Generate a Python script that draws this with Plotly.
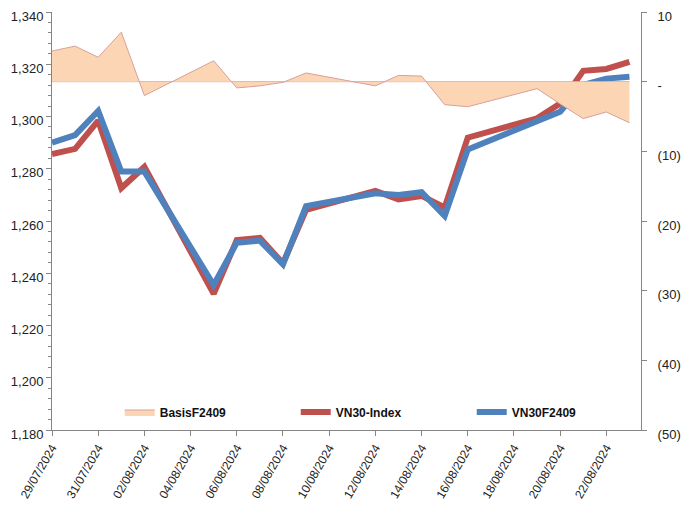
import plotly.graph_objects as go

dates = ["2024-07-29", "2024-07-30", "2024-07-31", "2024-08-01", "2024-08-02",
         "2024-08-05", "2024-08-06", "2024-08-07", "2024-08-08", "2024-08-09",
         "2024-08-12", "2024-08-13", "2024-08-14", "2024-08-15", "2024-08-16",
         "2024-08-19", "2024-08-20", "2024-08-21", "2024-08-22", "2024-08-23"]

vn30_index = [1285.6, 1287.6, 1298.4, 1272.6, 1280.7,
              1232.1, 1252.7, 1253.5, 1243.8, 1264.3,
              1271.5, 1268.3, 1269.6, 1265.2, 1291.9,
              1299.3, 1305.0, 1317.5, 1318.2, 1320.9]

vn30f2409 = [1290.0, 1292.9, 1302.1, 1278.9, 1278.9,
             1235.5, 1251.7, 1252.5, 1243.4, 1265.7,
             1270.6, 1270.0, 1271.0, 1261.9, 1287.4,
             1298.4, 1301.8, 1312.1, 1314.5, 1315.2]

basis = [4.4, 5.1, 3.5, 7.1, -2.0,
         3.0, -0.9, -0.6, -0.1, 1.25,
         -0.6, 0.9, 0.8, -3.3, -3.6,
         -1.0, -3.2, -5.3, -4.35, -5.9]

left_ticks = [1180, 1200, 1220, 1240, 1260, 1280, 1300, 1320, 1340]
right_tickvals = [10, 0, -10, -20, -30, -40, -50]
right_ticktext = ["10", "-", "(10)", "(20)", "(30)", "(40)", "(50)"]

FONT = "Liberation Sans, Arial, sans-serif"
AXIS_COLOR = "#868686"
TEXT_COLOR = "#222222"

fig = go.Figure()

fig.add_trace(go.Scatter(
    x=dates, y=[0 for _ in basis], yaxis="y2", mode="lines",
    line=dict(color="#D9A09A", width=1), showlegend=False, hoverinfo="skip"))

fig.add_trace(go.Scatter(
    x=dates, y=basis, yaxis="y2", mode="lines", name="BasisF2409",
    fill="tozeroy", fillcolor="rgba(252,213,180,1)",
    line=dict(color="#D9A09A", width=1)))

fig.add_trace(go.Scatter(
    x=dates, y=vn30_index, mode="lines", name="VN30-Index",
    line=dict(color="#C0504D", width=6)))

fig.add_trace(go.Scatter(
    x=dates, y=vn30f2409, mode="lines", name="VN30F2409",
    line=dict(color="#4F81BD", width=6)))

fig.update_layout(
    width=683, height=497,
    margin=dict(l=44, r=50, t=4, b=75),
    paper_bgcolor="white", plot_bgcolor="white",
    font=dict(family=FONT, size=12, color=TEXT_COLOR),
    xaxis=dict(
        type="date", range=["2024-07-29", "2024-08-23 12:00"],
        tick0="2024-07-29", dtick=2 * 86400000, tickformat="%d/%m/%Y",
        tickangle=-60, showgrid=False, zeroline=False, automargin=False,
        showline=True, linecolor=AXIS_COLOR, linewidth=1,
        ticks="outside", ticklen=5, tickcolor=AXIS_COLOR,
        tickfont=dict(size=12, color=TEXT_COLOR)),
    yaxis=dict(
        range=[1180, 1340], tickvals=left_ticks, tickformat=",",
        showgrid=False, zeroline=False, automargin=False,
        showline=True, linecolor=AXIS_COLOR, linewidth=1,
        ticks="outside", ticklen=5, tickcolor=AXIS_COLOR,
        ticklabelshift=4,
        minor=dict(dtick=4, ticks="outside", ticklen=3, tickcolor=AXIS_COLOR),
        tickfont=dict(size=13, color=TEXT_COLOR)),
    yaxis2=dict(
        overlaying="y", side="right", range=[-50, 10],
        tickvals=right_tickvals, ticktext=right_ticktext,
        showgrid=False, zeroline=False, automargin=False,
        showline=True, linecolor=AXIS_COLOR, linewidth=1,
        ticks="outside", ticklen=5, tickcolor=AXIS_COLOR,
        ticklabelshift=4, ticklabelstandoff=8,
        tickfont=dict(size=13, color=TEXT_COLOR)),
    legend=dict(
        orientation="h", x=0.115, xanchor="left", y=0.043, yanchor="middle",
        bgcolor="rgba(0,0,0,0)", entrywidth=131, entrywidthmode="pixels",
        font=dict(family=FONT, size=12, color="#111111", weight="bold"),
        traceorder="normal"),
    showlegend=True,
)

fig.write_html("out.html")
